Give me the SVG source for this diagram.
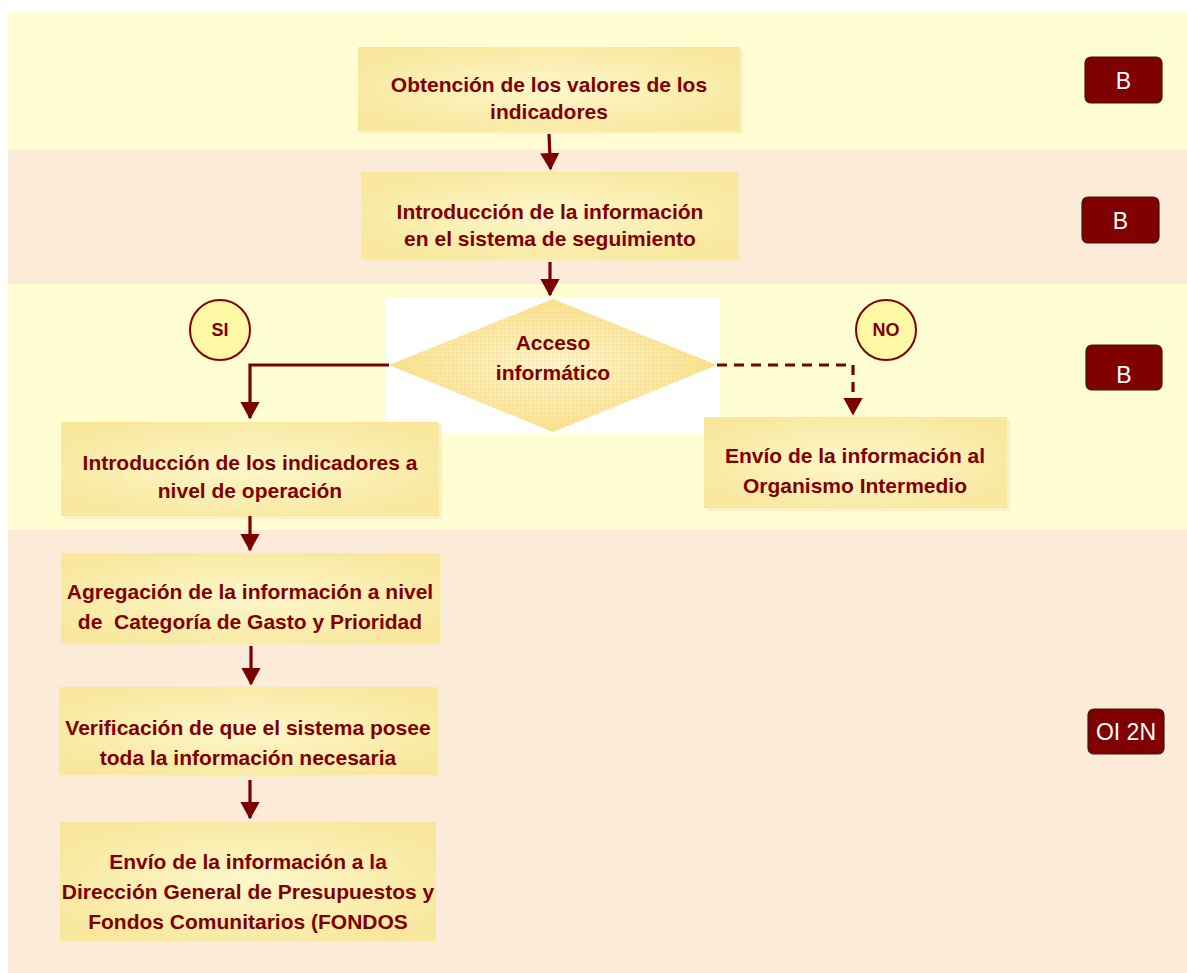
<svg xmlns="http://www.w3.org/2000/svg" width="1187" height="973" viewBox="0 0 1187 973">
<style>
.box{fill:url(#boxg)}
.shadow{fill:#F7EDC2;opacity:0.8}
.t{font-family:"Liberation Sans",Arial,sans-serif;font-weight:bold;font-size:21px;fill:#800000;text-anchor:middle}
.badge{fill:#800000;stroke:#3a1a10;stroke-width:1.2}
.bt{font-family:"Liberation Sans",Arial,sans-serif;font-size:23px;fill:#ffffff;text-anchor:middle}
.circ{fill:#FFF9A6;stroke:#800000;stroke-width:2}
.ct{font-family:"Liberation Sans",Arial,sans-serif;font-weight:bold;font-size:18px;fill:#800000;text-anchor:middle}
.line{fill:none;stroke:#7A0000;stroke-width:3.2}
.dash{stroke-dasharray:10 7}
</style>
<defs>
<radialGradient id="boxg" cx="50%" cy="50%" r="60%">
<stop offset="0" stop-color="#FDF7CA"/>
<stop offset="1" stop-color="#F8E79C"/>
</radialGradient>
<radialGradient id="diag" cx="50%" cy="50%" r="55%">
<stop offset="0" stop-color="#FEF6D2"/>
<stop offset="1" stop-color="#F9DE86"/>
</radialGradient>
<pattern id="dots" width="4" height="4" patternUnits="userSpaceOnUse">
<rect x="0" y="0" width="2" height="2" fill="#F6D97A" opacity="0.5"/>
</pattern>
<marker id="ah" markerWidth="6" markerHeight="6" refX="5" refY="3" orient="auto" markerUnits="strokeWidth">
<path d="M0,0 L5.5,3 L0,6 Z" fill="#7A0000"/>
</marker>
</defs>

<g id="background">
<rect x="8" y="12" width="1179" height="137" fill="#FFFDD2"/>
<rect x="8" y="149" width="1179" height="135" fill="#FDEBDA"/>
<rect x="8" y="284" width="1179" height="246" fill="#FFFDD2"/>
<rect x="8" y="530" width="1179" height="443" fill="#FDEBDA"/>
</g>

<g id="node-obtencion">
<rect class="shadow" x="361" y="50" width="382" height="84"/>
<rect class="box" x="358" y="47" width="382" height="84"/>
<text class="t" x="549" y="92">Obtención de los valores de los</text>
<text class="t" x="549" y="119">indicadores</text>
</g>

<g id="node-introduccion-info">
<rect class="shadow" x="364" y="175" width="377" height="87"/>
<rect class="box" x="361" y="172" width="377" height="87"/>
<text class="t" x="550" y="219">Introducción de la información</text>
<text class="t" x="550" y="246">en el sistema de seguimiento</text>
</g>

<g id="node-acceso">
<rect x="386" y="298" width="334" height="135" fill="#ffffff"/>
<polygon points="389,365 553,299 717,365 553,432" fill="url(#diag)"/>
<polygon points="389,365 553,299 717,365 553,432" fill="url(#dots)"/>
<text class="t" x="553" y="350">Acceso</text>
<text class="t" x="553" y="380">informático</text>
</g>

<g id="node-si">
<circle class="circ" cx="220" cy="330" r="30"/>
<text class="ct" x="220" y="336">SI</text>
</g>

<g id="node-no">
<circle class="circ" cx="886" cy="330" r="30"/>
<text class="ct" x="886" y="336">NO</text>
</g>

<g id="node-introduccion-indicadores">
<rect class="shadow" x="64" y="425" width="378" height="94"/>
<rect class="box" x="61" y="422" width="378" height="94"/>
<text class="t" x="250" y="470">Introducción de los indicadores a</text>
<text class="t" x="250" y="498">nivel de operación</text>
</g>

<g id="node-envio-oi">
<rect class="shadow" x="707" y="420" width="303" height="91"/>
<rect class="box" x="704" y="417" width="303" height="91"/>
<text class="t" x="855" y="463">Envío de la información al</text>
<text class="t" x="855" y="493">Organismo Intermedio</text>
</g>

<g id="node-agregacion">
<rect class="shadow" x="64" y="556" width="379" height="90"/>
<rect class="box" x="61" y="553" width="379" height="90"/>
<text class="t" x="250" y="599">Agregación de la información a nivel</text>
<text class="t" x="250" y="629">de&#160; Categoría de Gasto y Prioridad</text>
</g>

<g id="node-verificacion">
<rect class="shadow" x="62" y="690" width="378" height="88"/>
<rect class="box" x="59" y="687" width="378" height="88"/>
<text class="t" x="248" y="735">Verificación de que el sistema posee</text>
<text class="t" x="248" y="765">toda la información necesaria</text>
</g>

<g id="node-envio-fondos">
<rect class="box" x="60" y="822" width="376" height="119"/>
<text class="t" x="248" y="869">Envío de la información a la</text>
<text class="t" x="248" y="899">Dirección General de Presupuestos y</text>
<text class="t" x="248" y="929">Fondos Comunitarios (FONDOS</text>
</g>

<g id="badges">
<g id="badge-b1"><rect class="badge" x="1085" y="57" width="77" height="46" rx="6"/><text class="bt" x="1123.5" y="89">B</text></g>
<g id="badge-b2"><rect class="badge" x="1082" y="197" width="77" height="46" rx="6"/><text class="bt" x="1120.5" y="229">B</text></g>
<g id="badge-b3"><rect class="badge" x="1086" y="345" width="76" height="45" rx="6"/><text class="bt" x="1124" y="383">B</text></g>
<g id="badge-oi2n"><rect class="badge" x="1088" y="709" width="76" height="45" rx="6"/><text class="bt" x="1126" y="740">OI 2N</text></g>
</g>

<g id="connectors">
<line class="line" x1="549" y1="134" x2="550.5" y2="169" marker-end="url(#ah)"/>
<line class="line" x1="550" y1="262" x2="550" y2="295" marker-end="url(#ah)"/>
<polyline class="line" points="389,365 250,365 250,418" marker-end="url(#ah)"/>
<polyline class="line dash" points="717,365 853,365 853,414" marker-end="url(#ah)"/>
<line class="line" x1="250" y1="516" x2="250" y2="550" marker-end="url(#ah)"/>
<line class="line" x1="251" y1="646" x2="251" y2="684" marker-end="url(#ah)"/>
<line class="line" x1="250" y1="780" x2="250" y2="818" marker-end="url(#ah)"/>
</g>
</svg>
